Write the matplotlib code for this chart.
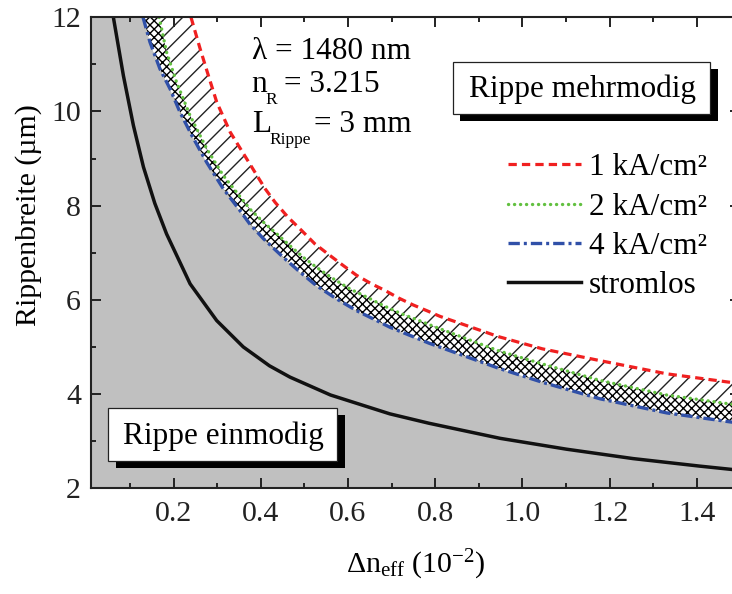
import numpy as np
import matplotlib
matplotlib.use("Agg")
import matplotlib.pyplot as plt
from matplotlib.patches import Rectangle
from matplotlib.ticker import MultipleLocator, FormatStrFormatter

plt.rcParams['font.family'] = ['Liberation Serif', 'DejaVu Serif']
plt.rcParams['mathtext.fontset'] = 'custom'
plt.rcParams['mathtext.rm'] = 'Liberation Serif'
plt.rcParams['mathtext.it'] = 'Liberation Serif:italic'
plt.rcParams['mathtext.bf'] = 'Liberation Serif:bold'
plt.rcParams['hatch.linewidth'] = 1.0

# Cut-off ridge width vs. effective index step
x_limits = (0.01, 1.5)
y_limits = (2.0, 12.0)

x_1ka = [0.240, 0.261, 0.280, 0.299, 0.330, 0.368, 0.410, 0.433, 0.463, 0.494,
         0.524, 0.559, 0.589, 0.620, 0.654, 0.685, 0.716, 0.750, 0.781, 0.811,
         0.945, 1.046, 1.178, 1.331, 1.476, 1.5]
y_1ka = [12.0, 11.33, 10.76, 10.20, 9.56, 8.99, 8.36, 8.07, 7.75, 7.47,
         7.19, 6.94, 6.73, 6.52, 6.34, 6.20, 6.04, 5.89, 5.77, 5.65,
         5.22, 4.96, 4.71, 4.43, 4.25, 4.22]

x_2ka = [0.167, 0.184, 0.207, 0.238, 0.276, 0.314, 0.345, 0.375, 0.406, 0.437,
         0.467, 0.498, 0.528, 0.566, 0.605, 0.643, 0.681, 0.719, 0.758, 0.796,
         0.945, 1.046, 1.178, 1.331, 1.476, 1.5]
y_2ka = [12.0, 11.26, 10.62, 9.91, 9.21, 8.64, 8.28, 7.93, 7.65, 7.40,
         7.15, 6.90, 6.69, 6.45, 6.23, 6.06, 5.88, 5.72, 5.58, 5.44,
         4.92, 4.64, 4.29, 3.98, 3.79, 3.76]

x_4ka = [0.130, 0.146, 0.169, 0.192, 0.215, 0.242, 0.276, 0.314, 0.352, 0.375,
         0.406, 0.452, 0.490, 0.528, 0.574, 0.620, 0.666, 0.696, 0.786, 0.945,
         1.046, 1.178, 1.331, 1.476, 1.5]
y_4ka = [12.0, 11.47, 10.90, 10.48, 9.98, 9.49, 8.92, 8.36, 7.90, 7.61,
         7.30, 6.90, 6.59, 6.30, 6.02, 5.77, 5.56, 5.42, 5.08, 4.55,
         4.25, 3.90, 3.60, 3.41, 3.38]

x_0 = [0.062, 0.085, 0.108, 0.131, 0.157, 0.184, 0.238, 0.299, 0.360, 0.420,
       0.467, 0.560, 0.696, 0.786, 0.949, 1.101, 1.254, 1.407, 1.48, 1.5]
y_0 = [12.0, 10.76, 9.70, 8.82, 8.05, 7.40, 6.34, 5.56, 5.00, 4.60,
       4.36, 3.98, 3.58, 3.38, 3.06, 2.83, 2.63, 2.47, 2.40, 2.38]

labels = ['1 kA/cm²', '2 kA/cm²', '4 kA/cm²', 'stromlos']

fs = 21.5
fs_text = 22.5
fs_sub = 12.5

fig = plt.figure(figsize=(7.32, 5.94), dpi=100)
ax = fig.add_axes([0.1239, 0.178, 0.8875, 0.793])

# single-mode region (grey)
gx = np.concatenate([[x_limits[0], x_limits[0]], x_4ka, [x_limits[1], x_limits[1]]])
gy = np.concatenate([[y_limits[0], y_limits[1]], y_4ka, [y_4ka[-1], y_limits[0]]])
ax.fill(gx, gy, facecolor='#c0c0c0', edgecolor='none', zorder=1)

# band between 1 and 2 kA/cm²
ax.fill(np.concatenate([x_1ka, x_2ka[::-1]]), np.concatenate([y_1ka, y_2ka[::-1]]),
        facecolor='white', edgecolor='#222222', hatch='//', linewidth=0, zorder=1)
# band between 2 and 4 kA/cm²
ax.fill(np.concatenate([x_2ka, x_4ka[::-1]]), np.concatenate([y_2ka, y_4ka[::-1]]),
        facecolor='white', edgecolor='black', hatch='xxxx', linewidth=0, zorder=1)

l1, = ax.plot(x_1ka, y_1ka, color='#f02020', lw=2.3, dashes=(2.6, 1.6), zorder=3)
l2, = ax.plot(x_2ka, y_2ka, color='#62c040', lw=2.4, dashes=(0.05, 1.75),
              dash_capstyle='round', zorder=3)
l4, = ax.plot(x_4ka, y_4ka, color='#3050a8', lw=2.4, dashes=(3.4, 1.2, 0.9, 1.2), zorder=3)
l0, = ax.plot(x_0, y_0, color='#111111', lw=2.5, zorder=3)

ax.set_xlim(*x_limits)
ax.set_ylim(*y_limits)
ax.xaxis.set_major_locator(MultipleLocator(0.2))
ax.xaxis.set_minor_locator(MultipleLocator(0.1))
ax.yaxis.set_major_locator(MultipleLocator(2))
ax.yaxis.set_minor_locator(MultipleLocator(1))
ax.xaxis.set_major_formatter(FormatStrFormatter('%.1f'))
ax.tick_params(which='both', direction='in', top=True, right=True, width=1.4,
               labelsize=fs, colors='#222222')
ax.tick_params(which='major', length=7.2)
ax.tick_params(which='minor', length=3.6)
ax.tick_params(axis='x', which='major', pad=9)
ax.tick_params(axis='y', which='major', pad=7)
for s in ax.spines.values():
    s.set_linewidth(1.5)
    s.set_color('#222222')
    s.set_zorder(5)

ax.set_xlabel(r'Δn$_{\mathrm{eff}}$ (10$^{-2}$)', fontsize=fs)
ax.xaxis.set_label_coords(0.5, -0.126)
ax.set_ylabel('Rippenbreite (µm)', fontsize=fs)
ax.yaxis.set_label_coords(-0.0754, 0.581)

leg = ax.legend([l1, l2, l4, l0], labels, loc='upper left',
                bbox_to_anchor=(0.642, 0.711), frameon=False, fontsize=fs_text,
                handlelength=2.35, handletextpad=0.25, labelspacing=0.33,
                borderpad=0, borderaxespad=0)


def px(x, y):
    """Convert pixel position inside the figure to axes fractions."""
    return (x - 90.7) / 649.6, (487.7 - y) / 471.0


def put(x, y, s, size=fs_text, **kw):
    ax.text(*px(x, y), s, transform=ax.transAxes, fontsize=size, va='baseline', **kw)


# parameter block
put(251.7, 58.0, 'λ = 1480 nm')
put(251.7, 91.7, 'n')
put(265.0, 103.3, 'R', size=fs_sub)
put(284.0, 91.7, '= 3.215')
put(251.7, 131.7, 'L')
put(269.0, 143.3, 'Rippe', size=fs_sub)
put(314.0, 131.7, '= 3 mm')


def shadow_box(x0, y0, x1, y1, cx, cy, s):
    ax0, ay0 = px(x0, y1)
    ax1, ay1 = px(x1, y0)
    dx, dy = 7.5 / 649.6, -7.2 / 471.0
    ax.add_patch(Rectangle((ax0 + dx, ay0 + dy), ax1 - ax0, ay1 - ay0,
                           transform=ax.transAxes, facecolor='black',
                           edgecolor='none', zorder=6))
    ax.add_patch(Rectangle((ax0, ay0), ax1 - ax0, ay1 - ay0,
                           transform=ax.transAxes, facecolor='white',
                           edgecolor='#222222', linewidth=0.9, zorder=7))
    ax.text(*px(cx, cy), s, transform=ax.transAxes, fontsize=fs_text,
            ha='center', va='baseline', zorder=8)


shadow_box(452.7, 61.7, 710.0, 113.3, 582.5, 96.7, 'Rippe mehrmodig')
shadow_box(108.3, 407.3, 337.3, 460.7, 223.3, 443.3, 'Rippe einmodig')

fig.savefig('out.png', dpi=100)
